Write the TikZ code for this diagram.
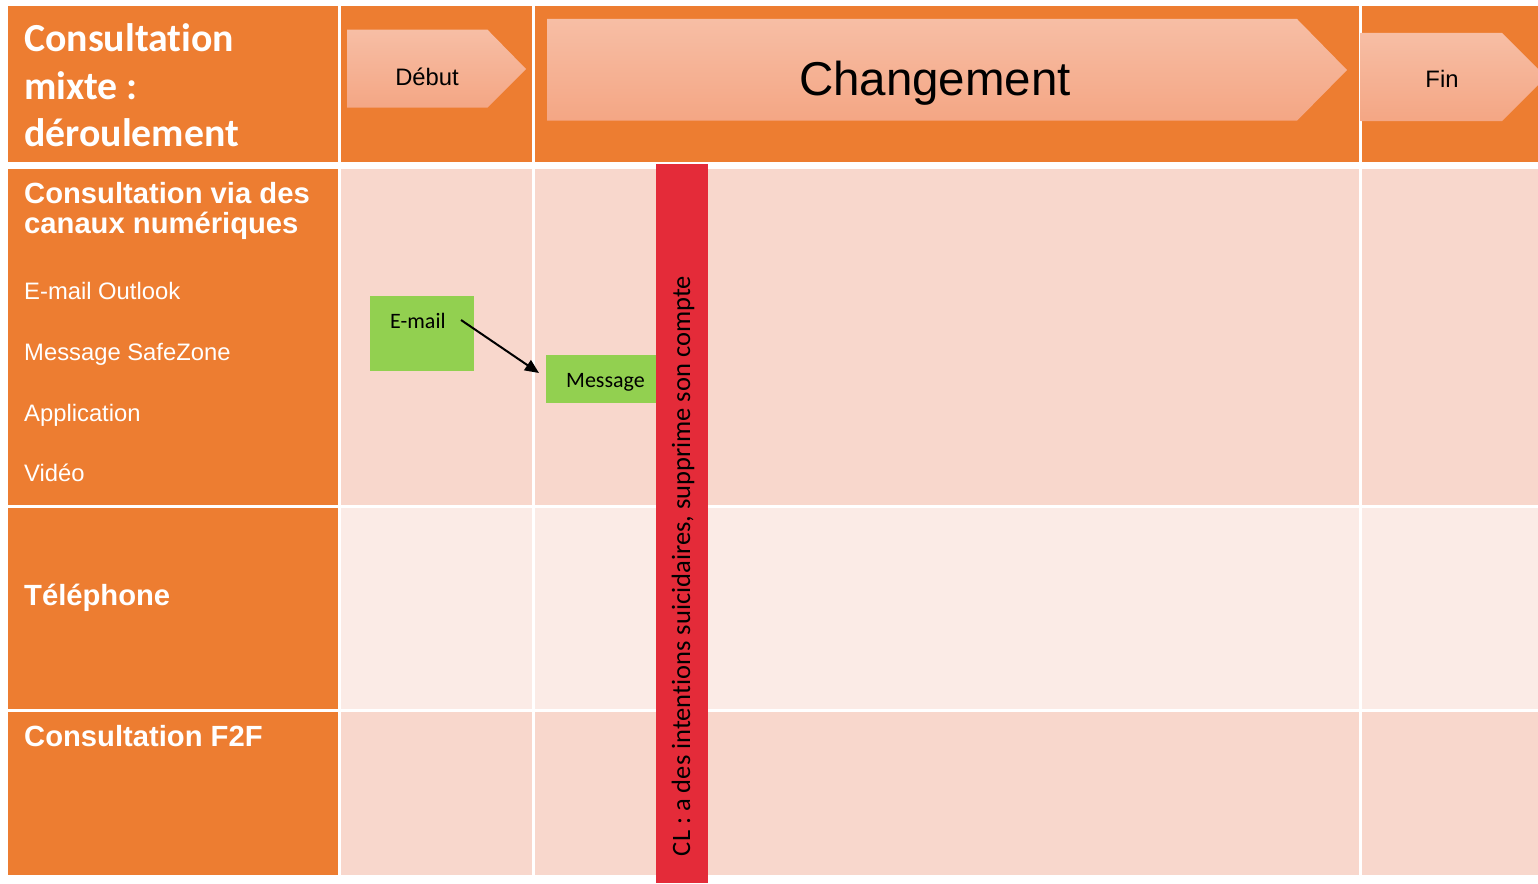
\documentclass[tikz,border=0pt]{standalone}
\usepackage{fontspec}
\setmainfont{Liberation Sans}
\newfontfamily\calibri[Ligatures=NoCommon]{Carlito}
\usetikzlibrary{arrows.meta}
\definecolor{orng}{HTML}{ED7D31}
\definecolor{rowa}{HTML}{F8D7CC}
\definecolor{rowb}{HTML}{FBEBE6}
\definecolor{arrtop}{HTML}{F7BEA5}
\definecolor{arrbot}{HTML}{F4A684}
\definecolor{grn}{HTML}{92D050}
\definecolor{redbar}{HTML}{E42B39}
\begin{document}
\begin{tikzpicture}[x=1pt,y=-1pt,
  txt/.style={inner sep=0pt,anchor=base west},
  wtitle/.style={txt,text=white,font=\calibri\bfseries\fontsize{39.8}{47}\selectfont},
  wlabel/.style={txt,text=white,font=\bfseries\fontsize{29.2}{33}\selectfont},
  witem/.style={txt,text=white,font=\fontsize{23.8}{28}\selectfont},
  phase/.style={top color=arrtop,bottom color=arrbot,draw=none},
  phtxt/.style={inner sep=0pt,anchor=base},
  gbox/.style={fill=grn},
  conn/.style={line width=2pt,-{Triangle[length=14pt,width=12pt]}}]
\useasboundingbox (0,0) rectangle (1538,883);
\begin{scope}
\clip (0,0) rectangle (1538,883);
% header row
\fill[orng] (8,6) rectangle (338,161.7);
\fill[orng] (341,6) rectangle (532,161.7);
\fill[orng] (535,6) rectangle (1359.3,161.7);
\fill[orng] (1362,6) rectangle (1538,161.7);
% first column
\fill[orng] (8,169.3) rectangle (338,505);
\fill[orng] (8,508) rectangle (338,709.3);
\fill[orng] (8,712.3) rectangle (338,875);
% body rows
\foreach \xa/\xb in {341/532,535/1359.3,1362/1538}{
  \fill[rowa] (\xa,169.3) rectangle (\xb,505);
  \fill[rowb] (\xa,508) rectangle (\xb,709.3);
  \fill[rowa] (\xa,712.3) rectangle (\xb,875);
}
% phase arrows
\path[phase] (347,29.7) -- (487.5,29.7) -- (526,69) -- (487.5,107.7) -- (347,107.7) -- cycle;
\path[phase] (547,19) -- (1297,19) -- (1347,70) -- (1297,120.7) -- (547,120.7) -- cycle;
\path[phase] (1360.5,33) -- (1502,33) -- (1546,77) -- (1502,121) -- (1360.5,121) -- cycle;
\end{scope}
\node[phtxt,font=\fontsize{23.8}{28}\selectfont] (debut) at (427,85) {Début};
\node[phtxt,font=\fontsize{47.5}{56}\selectfont] (chg) at (935,95) {Changement};
\node[phtxt,font=\fontsize{23.8}{28}\selectfont] (fin) at (1442,88) {Fin};
% header title
\node[wtitle] (t1) at (24,52) {Consultation};
\node[wtitle] (t2) at (24,99) {mixte :};
\node[wtitle] (t3) at (24,146) {déroulement};
% row labels
\node[wlabel] (r1a) at (24,203.3) {Consultation via des};
\node[wlabel] (r1b) at (24,233.5) {canaux numériques};
\node[witem] (i1) at (24,299.5) {E-mail Outlook};
\node[witem] (i2) at (24,360.7) {Message SafeZone};
\node[witem] (i3) at (24,421.7) {Application};
\node[witem] (i4) at (24,481.7) {Vidéo};
\node[wlabel] (r2) at (24,605) {Téléphone};
\node[wlabel] (r3) at (24,746.7) {Consultation F2F};
% green boxes
\fill[gbox] (370,296) rectangle (474,371);
\node[txt,font=\calibri\fontsize{22}{26}\selectfont] (email) at (390,328) {E-mail};
\fill[gbox] (546,355) rectangle (656,403);
\node[txt,font=\calibri\fontsize{22}{26}\selectfont] (msg) at (566,387) {Message};
% red bar
\fill[redbar] (656,164) rectangle (708,883);
\node[inner sep=0pt,anchor=base,rotate=90,font=\calibri\fontsize{26.5}{30}\selectfont] (cl) at (690,566) {CL : a des intentions suicidaires, supprime son compte};
% connector
\coordinate (astart) at (461,320);
\coordinate (aend) at (539,373);
\draw[conn] (astart) -- (aend);
\end{tikzpicture}
\end{document}
